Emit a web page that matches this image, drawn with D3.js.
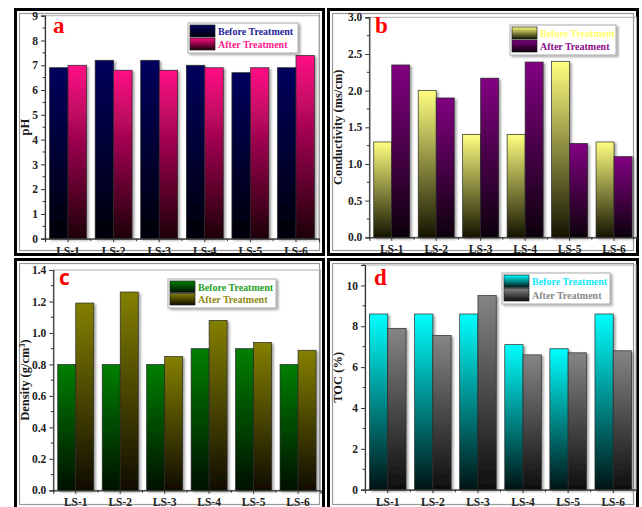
<!DOCTYPE html>
<html>
<head>
<meta charset="utf-8">
<script src="https://cdn.jsdelivr.net/npm/d3@7"></script>
<style>
  body { margin: 0; background: #fff; }
  text { font-family: "Liberation Serif", "DejaVu Serif", serif; font-weight: bold; }
</style>
</head>
<body>
<div class="canvas"></div>
<script>
// values
const categories = ["LS-1", "LS-2", "LS-3", "LS-4", "LS-5", "LS-6"];
const seriesNames = ["Before Treatment", "After Treatment"];

const phBefore = [6.9, 7.2, 7.2, 7.0, 6.7, 6.9];
const phAfter = [7.0, 6.8, 6.8, 6.9, 6.9, 7.4];

const condBefore = [1.3, 2.0, 1.4, 1.4, 2.4, 1.3];
const condAfter = [2.35, 1.9, 2.17, 2.39, 1.28, 1.1];

const densBefore = [0.8, 0.8, 0.8, 0.9, 0.9, 0.8];
const densAfter = [1.19, 1.26, 0.85, 1.08, 0.94, 0.89];

const tocBefore = [8.6, 8.6, 8.6, 7.1, 6.9, 8.6];
const tocAfter = [7.9, 7.55, 9.5, 6.6, 6.7, 6.8];

const svg = d3.select(".canvas").append("svg")
    .attr("width", 642)
    .attr("height", 507);

const defs = svg.append("defs");

const shadow = defs.append("filter").attr("id", "shadow")
    .attr("x", "-20%").attr("y", "-10%").attr("width", "150%").attr("height", "130%");
shadow.append("feDropShadow")
    .attr("dx", 2).attr("dy", 1.5).attr("stdDeviation", 1)
    .attr("flood-color", "#000").attr("flood-opacity", 0.35);

// panel layout + styling
const panels = [
    {key: "a", letter: "a", box: [14, 8, 311, 248], x: [45, 319], y: [238.7, 15.7], domain: [0, 9],
     ticks: d3.range(0, 10, 1), minor: 0.5, fmt: d3.format("d"), title: "pH", titleX: 29,
     before: phBefore, after: phAfter,
     grad: [["#00005e", "#000008"], ["#ff0a84", "#1c0008"]],
     textCol: ["#23239a", "#ff1a8c"], legend: [188, 23, 110, 30], letterPos: [53, 33], sans: false},
    {key: "b", letter: "b", box: [327, 8, 312, 248], x: [369.3, 636.5], y: [237.3, 17.3], domain: [0, 3],
     ticks: d3.range(0, 3.01, 0.5), minor: 0.25, fmt: d3.format(".1f"), title: "Conductivity (ms/cm)", titleX: 342,
     before: condBefore, after: condAfter,
     grad: [["#ffff80", "#141400"], ["#820082", "#0c000c"]],
     textCol: ["#ffff66", "#8a0a8a"], legend: [510, 25, 106, 30], letterPos: [375, 33], sans: false},
    {key: "c", letter: "c", box: [14, 258, 311, 252], x: [53.3, 320.5], y: [490.3, 270], domain: [0, 1.4],
     ticks: d3.range(0, 1.41, 0.2), minor: 0.1, fmt: d3.format(".1f"), title: "Density (g/cm", titleX: 29,
     before: densBefore, after: densAfter,
     grad: [["#008000", "#001000"], ["#848000", "#100c00"]],
     textCol: ["#1fa01f", "#8c8a10"], legend: [168, 279, 108, 29], letterPos: [59, 285], sans: true},
    {key: "d", letter: "d", box: [327, 258, 312, 252], x: [365, 636], y: [489.7, 265], domain: [0, 11],
     ticks: d3.range(0, 11, 2), minor: 1, fmt: d3.format("d"), title: "TOC (%)", titleX: 342,
     before: tocBefore, after: tocAfter,
     grad: [["#00ffff", "#001414"], ["#858585", "#0e0e0e"]],
     textCol: ["#10e8f8", "#8a8a8a"], legend: [502, 273, 108, 31], letterPos: [374, 285], sans: false}
];

panels.forEach(p => {
    const g = svg.append("g").attr("class", "panel-" + p.key);

    // panel frame: thick black + thin gray inset
    const [bx, by, bw, bh] = p.box;
    g.append("rect")
        .attr("x", bx + 1.5).attr("y", by + 1.5)
        .attr("width", bw - 3).attr("height", bh - 3)
        .attr("fill", "#fff").attr("stroke", "#000").attr("stroke-width", 3);
    g.append("rect")
        .attr("x", bx + 5.5).attr("y", by + 5.5)
        .attr("width", bw - 11).attr("height", bh - 11)
        .attr("fill", "none").attr("stroke", "#9a9a9a").attr("stroke-width", 1.2);

    // gradients
    p.grad.forEach((c, i) => {
        const lg = defs.append("linearGradient")
            .attr("id", `grad-${p.key}-${i}`)
            .attr("x1", 0).attr("y1", 0).attr("x2", 0).attr("y2", 1);
        lg.append("stop").attr("offset", "0%").attr("stop-color", c[0]);
        lg.append("stop").attr("offset", "100%").attr("stop-color", c[1]);
    });

    const x = d3.scaleBand()
        .domain(categories)
        .range(p.x)
        .paddingInner(0.19)
        .paddingOuter(0.1);
    const x1 = d3.scaleBand()
        .domain([0, 1])
        .range([0, x.bandwidth()]);
    const y = d3.scaleLinear()
        .domain(p.domain)
        .range(p.y);

    // plot frame (gray top/right)
    g.append("rect")
        .attr("x", p.x[0]).attr("y", p.y[1])
        .attr("width", p.x[1] - p.x[0]).attr("height", p.y[0] - p.y[1])
        .attr("fill", "none").attr("stroke", "#b0b0b0").attr("stroke-width", 1);

    // bars
    const rows = categories.map((c, i) => ({cat: c, vals: [p.before[i], p.after[i]]}));
    const groups = g.selectAll(".grp")
        .data(rows)
        .enter().append("g")
        .attr("class", "grp")
        .attr("transform", d => `translate(${x(d.cat)},0)`);

    groups.selectAll("rect")
        .data(d => d.vals.map((v, i) => ({v, i})))
        .enter().append("rect")
        .attr("x", d => x1(d.i))
        .attr("y", d => y(d.v))
        .attr("width", x1.bandwidth())
        .attr("height", d => y(0) - y(d.v))
        .attr("fill", d => `url(#grad-${p.key}-${d.i})`)
        .attr("stroke", "#2a2a2a")
        .attr("stroke-width", 0.7)
        .attr("filter", "url(#shadow)");

    // y axis
    const yAxis = g.append("g")
        .attr("transform", `translate(${p.x[0]},0)`)
        .call(d3.axisLeft(y).tickValues(p.ticks).tickFormat(p.fmt).tickSize(4).tickPadding(3));
    const minorVals = d3.range(p.domain[0], p.domain[1] + 1e-9, p.minor)
        .filter(v => !p.ticks.some(t => Math.abs(t - v) < 1e-9));
    yAxis.selectAll(".minor")
        .data(minorVals)
        .enter().append("line")
        .attr("class", "minor")
        .attr("x1", 0).attr("x2", -2.5)
        .attr("y1", d => y(d)).attr("y2", d => y(d))
        .attr("stroke", "#333");

    // x axis
    const xAxis = g.append("g")
        .attr("transform", `translate(0,${p.y[0]})`)
        .call(d3.axisBottom(x).tickSize(3.5).tickPadding(4.5));
    xAxis.selectAll(".bnd")
        .data(categories.slice(1))
        .enter().append("line")
        .attr("class", "bnd")
        .attr("x1", d => x(d) - x.step() * x.paddingInner() / 2)
        .attr("x2", d => x(d) - x.step() * x.paddingInner() / 2)
        .attr("y1", 0).attr("y2", 2.5)
        .attr("stroke", "#333");

    [yAxis, xAxis].forEach(ax => {
        ax.select(".domain").attr("stroke", "#333").attr("stroke-width", 1.2);
        ax.selectAll(".tick line").attr("stroke", "#333");
        ax.selectAll("text")
            .attr("fill", "#222")
            .style("font-size", "11.5px")
            .style("font-family", "'Liberation Serif', serif")
            .style("font-weight", "bold");
    });

    // y title
    const midY = (p.y[0] + p.y[1]) / 2;
    const tt = g.append("text")
        .attr("transform", `translate(${p.titleX},${midY}) rotate(-90)`)
        .attr("text-anchor", "middle")
        .attr("fill", "#1a1a1a")
        .style("font-size", "12.5px")
        .text(p.title);
    if (p.key === "c") {
        tt.append("tspan").attr("baseline-shift", "super").style("font-size", "8px").text("3");
        tt.append("tspan").text(")");
    }

    // panel letter
    g.append("text")
        .attr("x", p.letterPos[0]).attr("y", p.letterPos[1])
        .attr("fill", "#ff0000")
        .style("font-size", p.sans ? "21px" : "23px")
        .style("font-family", p.sans ? "'Open Sans', 'Liberation Sans', sans-serif" : "'Liberation Serif', serif")
        .text(p.letter);

    // legend
    const [lx, ly, lw, lh] = p.legend;
    const lg = g.append("g").attr("transform", `translate(${lx},${ly})`);
    lg.append("rect")
        .attr("width", lw).attr("height", lh)
        .attr("fill", "#fff").attr("stroke", "#aaa").attr("stroke-width", 1)
        .attr("filter", "url(#shadow)");
    seriesNames.forEach((name, i) => {
        lg.append("rect")
            .attr("x", 2).attr("y", 2 + i * (lh - 4) / 2)
            .attr("width", 25).attr("height", (lh - 4) / 2 - 1)
            .attr("fill", `url(#grad-${p.key}-${i})`)
            .attr("stroke", "#222").attr("stroke-width", 0.7);
        lg.append("text")
            .attr("x", 30).attr("y", 2 + i * (lh - 4) / 2 + (lh - 4) / 4 + 3.5)
            .attr("fill", p.textCol[i])
            .style("font-size", "10px")
            .text(name);
    });
});
</script>
</body>
</html>
